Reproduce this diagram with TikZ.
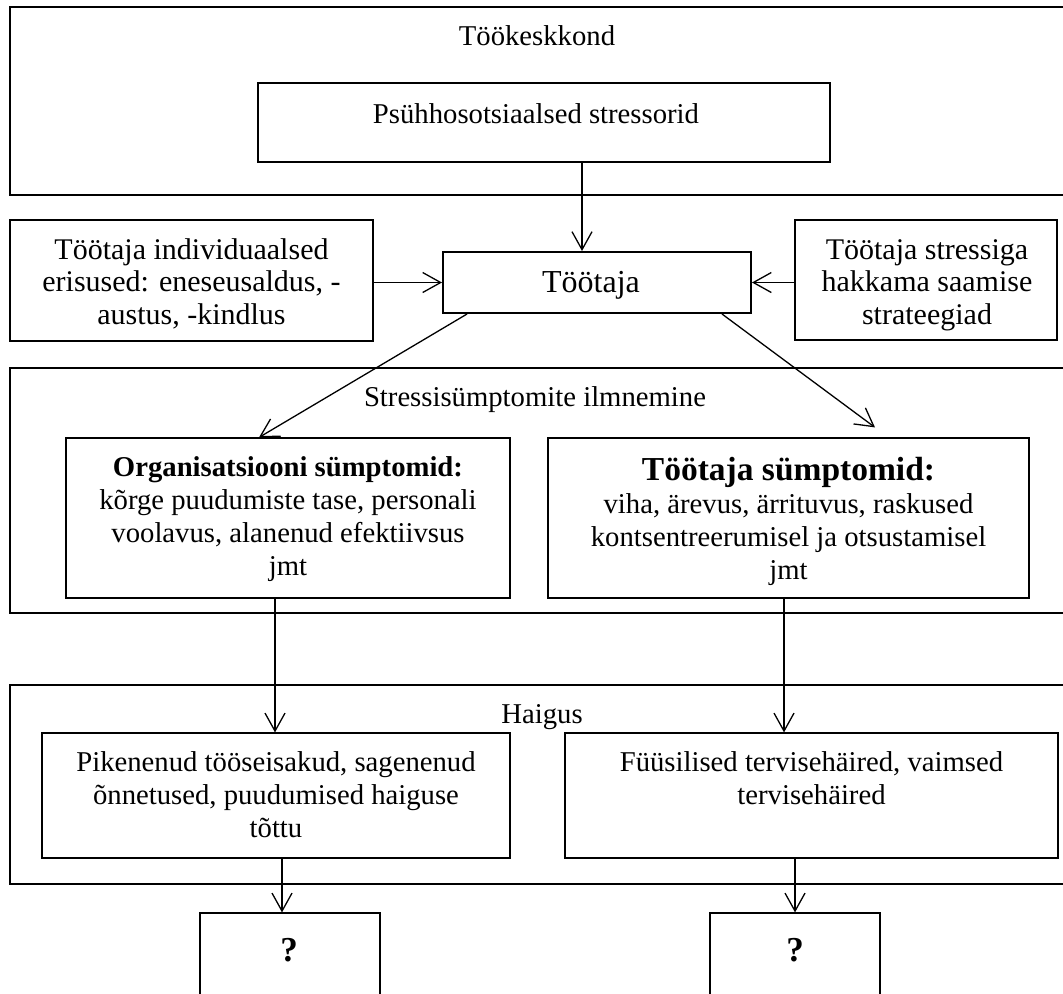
\documentclass[tikz,border=0pt]{standalone}
\usepackage{fontspec}
\setmainfont{Liberation Serif}
\usetikzlibrary{arrows.meta}

\tikzset{
  box/.style={draw=black, line width=0.6pt, inner sep=0pt, fill=none},
  txt/.style={inner sep=0pt, align=center, anchor=base,
              font=\fontsize{14.35}{16.5}\selectfont},
  sidetxt/.style={txt, font=\fontsize{15}{16.25}\selectfont},
  bigtxt/.style={txt, font=\fontsize{16}{17.75}\selectfont},
  qtxt/.style={txt, font=\bfseries\fontsize{17.5}{20}\selectfont},
  arr/.style={line width=0.65pt, -{Straight Barb[length=9pt,width=10pt,line width=0.65pt]}}
}

\begin{document}
\begin{tikzpicture}[x=0.5pt,y=-0.5pt]
\useasboundingbox (0,0) rectangle (1063,993);
\clip (0,0) rectangle (1063,993);

% --- work environment ---
\node[box, line width=1.25pt, minimum width=535pt, minimum height=94pt] (env) at (545,101) {};
\node[txt] (envT) at (537,45) {Töökeskkond};
\node[box, line width=0.75pt, minimum width=286pt, minimum height=39.5pt] (psy) at (544,122.5) {};
\node[txt] (psyT) at (536,123) {Psühhosotsiaalsed stressorid};

% --- the worker and what shapes the reaction ---
% (base anchor of a multi-line text = baseline of its last line)
\node[box, line width=1pt, minimum width=154pt, minimum height=30.5pt] (worker) at (597,282.5) {};
\node[bigtxt] (workerT) at (591,292) {Töötaja};
\node[box, minimum width=181.5pt, minimum height=60.5pt] (indiv) at (191.5,280.5) {};
\node[sidetxt] (indivT) at (191.5,324) {Töötaja individuaalsed\\erisused: eneseusaldus, -\\austus, -kindlus};
\node[box, minimum width=131pt, minimum height=60pt] (coping) at (926,280) {};
\node[sidetxt] (copingT) at (927,324) {Töötaja stressiga\\hakkama saamise\\strateegiad};

% --- stress symptoms ---
\node[box, line width=1pt, minimum width=535pt, minimum height=122.5pt] (stress) at (545,490.5) {};
\node[txt] (stressT) at (535,406) {Stressisümptomite ilmnemine};
\node[box, minimum width=222pt, minimum height=80pt] (org) at (288,518) {};
\node[txt] (orgT) at (288,575) {\textbf{Organisatsiooni sümptomid:}\\kõrge puudumiste tase, personali\\voolavus, alanenud efektiivsus\\jmt};
\node[box, minimum width=240.5pt, minimum height=80pt] (emp) at (788.5,518) {};
\node[txt] (empT) at (788.5,579) {{\bfseries\fontsize{16.75}{18}\selectfont Töötaja sümptomid:}\\viha, ärevus, ärrituvus, raskused\\kontsentreerumisel ja otsustamisel\\jmt};

% --- illness ---
\node[box, minimum width=535pt, minimum height=99.5pt] (ill) at (545,784.5) {};
\node[txt] (illT) at (542,723) {Haigus};
\node[box, minimum width=234pt, minimum height=62.5pt] (dl) at (276,795.5) {};
\node[txt] (dlT) at (276,837) {Pikenenud tööseisakud, sagenenud\\õnnetused, puudumised haiguse\\tõttu};
\node[box, minimum width=246.5pt, minimum height=62.5pt] (dr) at (811.5,795.5) {};
\node[txt] (drT) at (811.5,804) {Füüsilised tervisehäired, vaimsed\\tervisehäired};

% --- open outcomes ---
\node[box, minimum width=90pt, minimum height=48.5pt] (ql) at (290,961.5) {};
\node[qtxt] (qlT) at (289,961) {?};
\node[box, minimum width=85pt, minimum height=48.5pt] (qr) at (795,961.5) {};
\node[qtxt] (qrT) at (795,961) {?};

% --- connector columns ---
\coordinate (c0) at (582,0);
\coordinate (c1) at (275,0);
\coordinate (c2) at (784,0);
\coordinate (c3) at (282,0);

% --- connectors ---
\draw[arr] (psy.south -| c0) -- (worker.north -| c0);
\draw[arr] (indiv.east |- worker.west) -- (worker.west);
\draw[arr] (coping.west |- worker.east) -- (worker.east);
\draw[arr] ([xshift=-65pt]worker.south) -- ([xshift=-14.5pt]org.north);
\draw[arr] ([xshift=62.5pt]worker.south) -- ([xshift=43.25pt,yshift=5pt]emp.north);
\draw[arr] (org.south -| c1) -- (dl.north -| c1);
\draw[arr] (emp.south -| c2) -- (dr.north -| c2);
\draw[arr] (dl.south -| c3) -- (ql.north -| c3);
\draw[arr] (dr.south -| qr.north) -- (qr.north);
\end{tikzpicture}
\end{document}
